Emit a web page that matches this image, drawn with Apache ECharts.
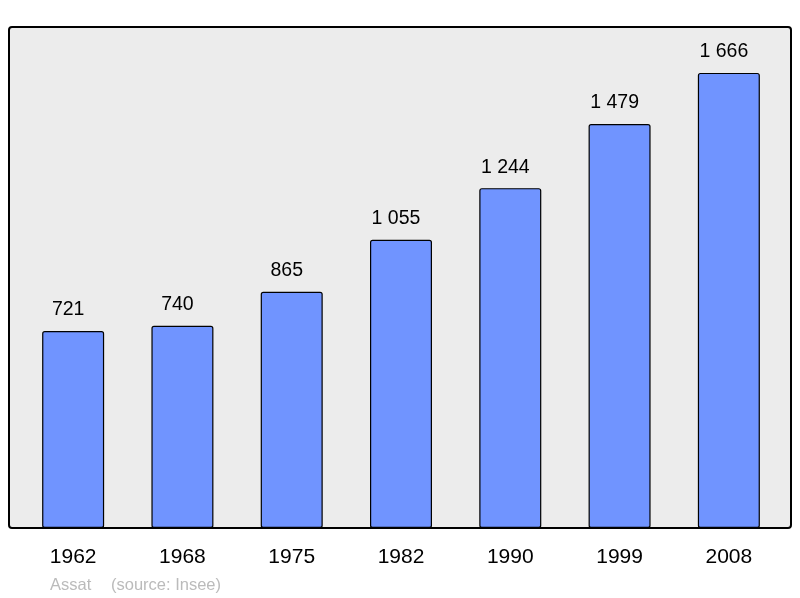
<!DOCTYPE html>
<html><head><meta charset="utf-8">
<script src="https://cdn.jsdelivr.net/npm/echarts@6/dist/echarts.min.js"></script>
<style>html,body{margin:0;padding:0;background:#fff}#c{width:800px;height:598px}</style>
</head><body><div id="c"></div>
<script>
const categories = ['1962','1968','1975','1982','1990','1999','2008'];
const population = [721, 740, 865, 1055, 1244, 1479, 1666];
const footerName = 'Assat';
const footerSource = '(source: Insee)';

const chart = echarts.init(document.getElementById('c'), null, {renderer:'canvas'});
function fmt(v){ return String(v).replace(/\B(?=(\d{3})+(?!\d))/g, ' '); }
chart.setOption({
  backgroundColor: '#ffffff',
  animation: false,
  textStyle: {fontFamily: 'Liberation Sans'},
  graphic: [
    {type:'rect', z:-10, shape:{x:9, y:27, width:782, height:501, r:3},
     style:{fill:'#ececec', stroke:'#000', lineWidth:2}},
    {type:'text', x:50, y:585, style:{text: footerName, fill:'#bbbbbb', font:'16.5px "Liberation Sans"', verticalAlign:'middle'}},
    {type:'text', x:111, y:585, style:{text: footerSource, fill:'#bbbbbb', font:'16.5px "Liberation Sans"', verticalAlign:'middle'}}
  ],
  grid: {left:18.5, right:16.5, top:27, bottom:70, containLabel:false},
  xAxis: {
    type:'category', data:categories,
    axisLine:{show:false}, axisTick:{show:false},
    axisLabel:{color:'#000', fontSize:21, margin:19, fontFamily:'Liberation Sans'}
  },
  yAxis: {type:'value', min:0, max:1834, show:false, splitLine:{show:false}},
  series: [{
    type:'bar', data:population, barWidth:62,
    itemStyle:{color:'#7094ff', borderColor:'#000', borderWidth:1.2, borderRadius:2},
    label:{show:true, position:'top', distance:11, offset:[-5,0], color:'#000', fontSize:19.5,
      fontFamily:'Liberation Sans', formatter: p => fmt(p.value)}
  }]
});
</script></body></html>
